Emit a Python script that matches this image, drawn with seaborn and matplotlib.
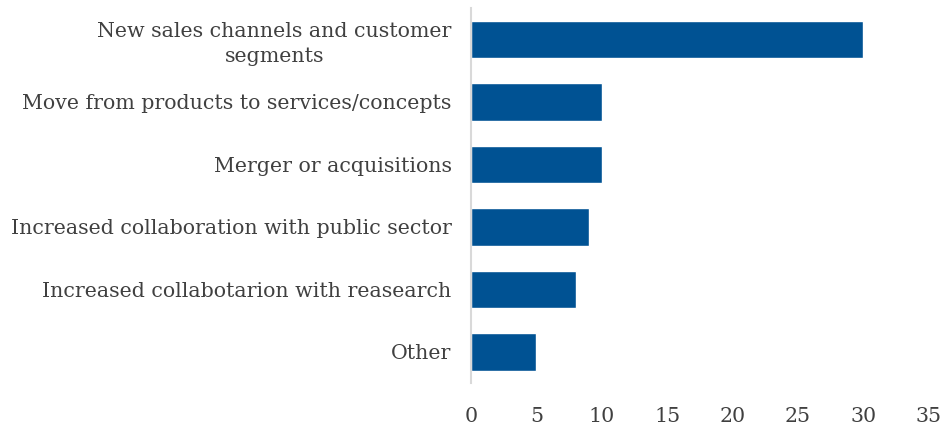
import matplotlib
matplotlib.use("Agg")
import matplotlib.pyplot as plt
import seaborn as sns
import pandas as pd

categories = [
    "New sales channels and customer\nsegments",
    "Move from products to services/concepts",
    "Merger or acquisitions",
    "Increased collaboration with public sector",
    "Increased collabotarion with reasearch",
    "Other",
]
values = [30, 10, 10, 9, 8, 5]
xticks = [0, 5, 10, 15, 20, 25, 30, 35]

df = pd.DataFrame({"category": categories, "value": values})

sns.set_style("white")
plt.rcParams["font.family"] = ["DejaVu Serif"]

fig = plt.figure(figsize=(9.42, 4.29), dpi=100)
ax = fig.add_axes([0.5, 0.107, 0.486, 0.874])

sns.barplot(data=df, x="value", y="category", color="#005293",
            width=0.6, saturation=1, ax=ax)

ax.set_xlim(0, 35)
ax.set_xticks(xticks)
ax.set_xlabel("")
ax.set_ylabel("")
ax.tick_params(axis="both", length=0, labelcolor="#404040", labelsize=14.8)
ax.tick_params(axis="x", pad=17)
ax.tick_params(axis="y", pad=14)
for lbl in ax.get_yticklabels():
    lbl.set_multialignment("center")
    lbl.set_linespacing(1.35)

for s in ["top", "right", "bottom"]:
    ax.spines[s].set_visible(False)
ax.spines["left"].set_color("#d9d9d9")
ax.spines["left"].set_linewidth(1.5)

fig.savefig("out.png", dpi=100)
